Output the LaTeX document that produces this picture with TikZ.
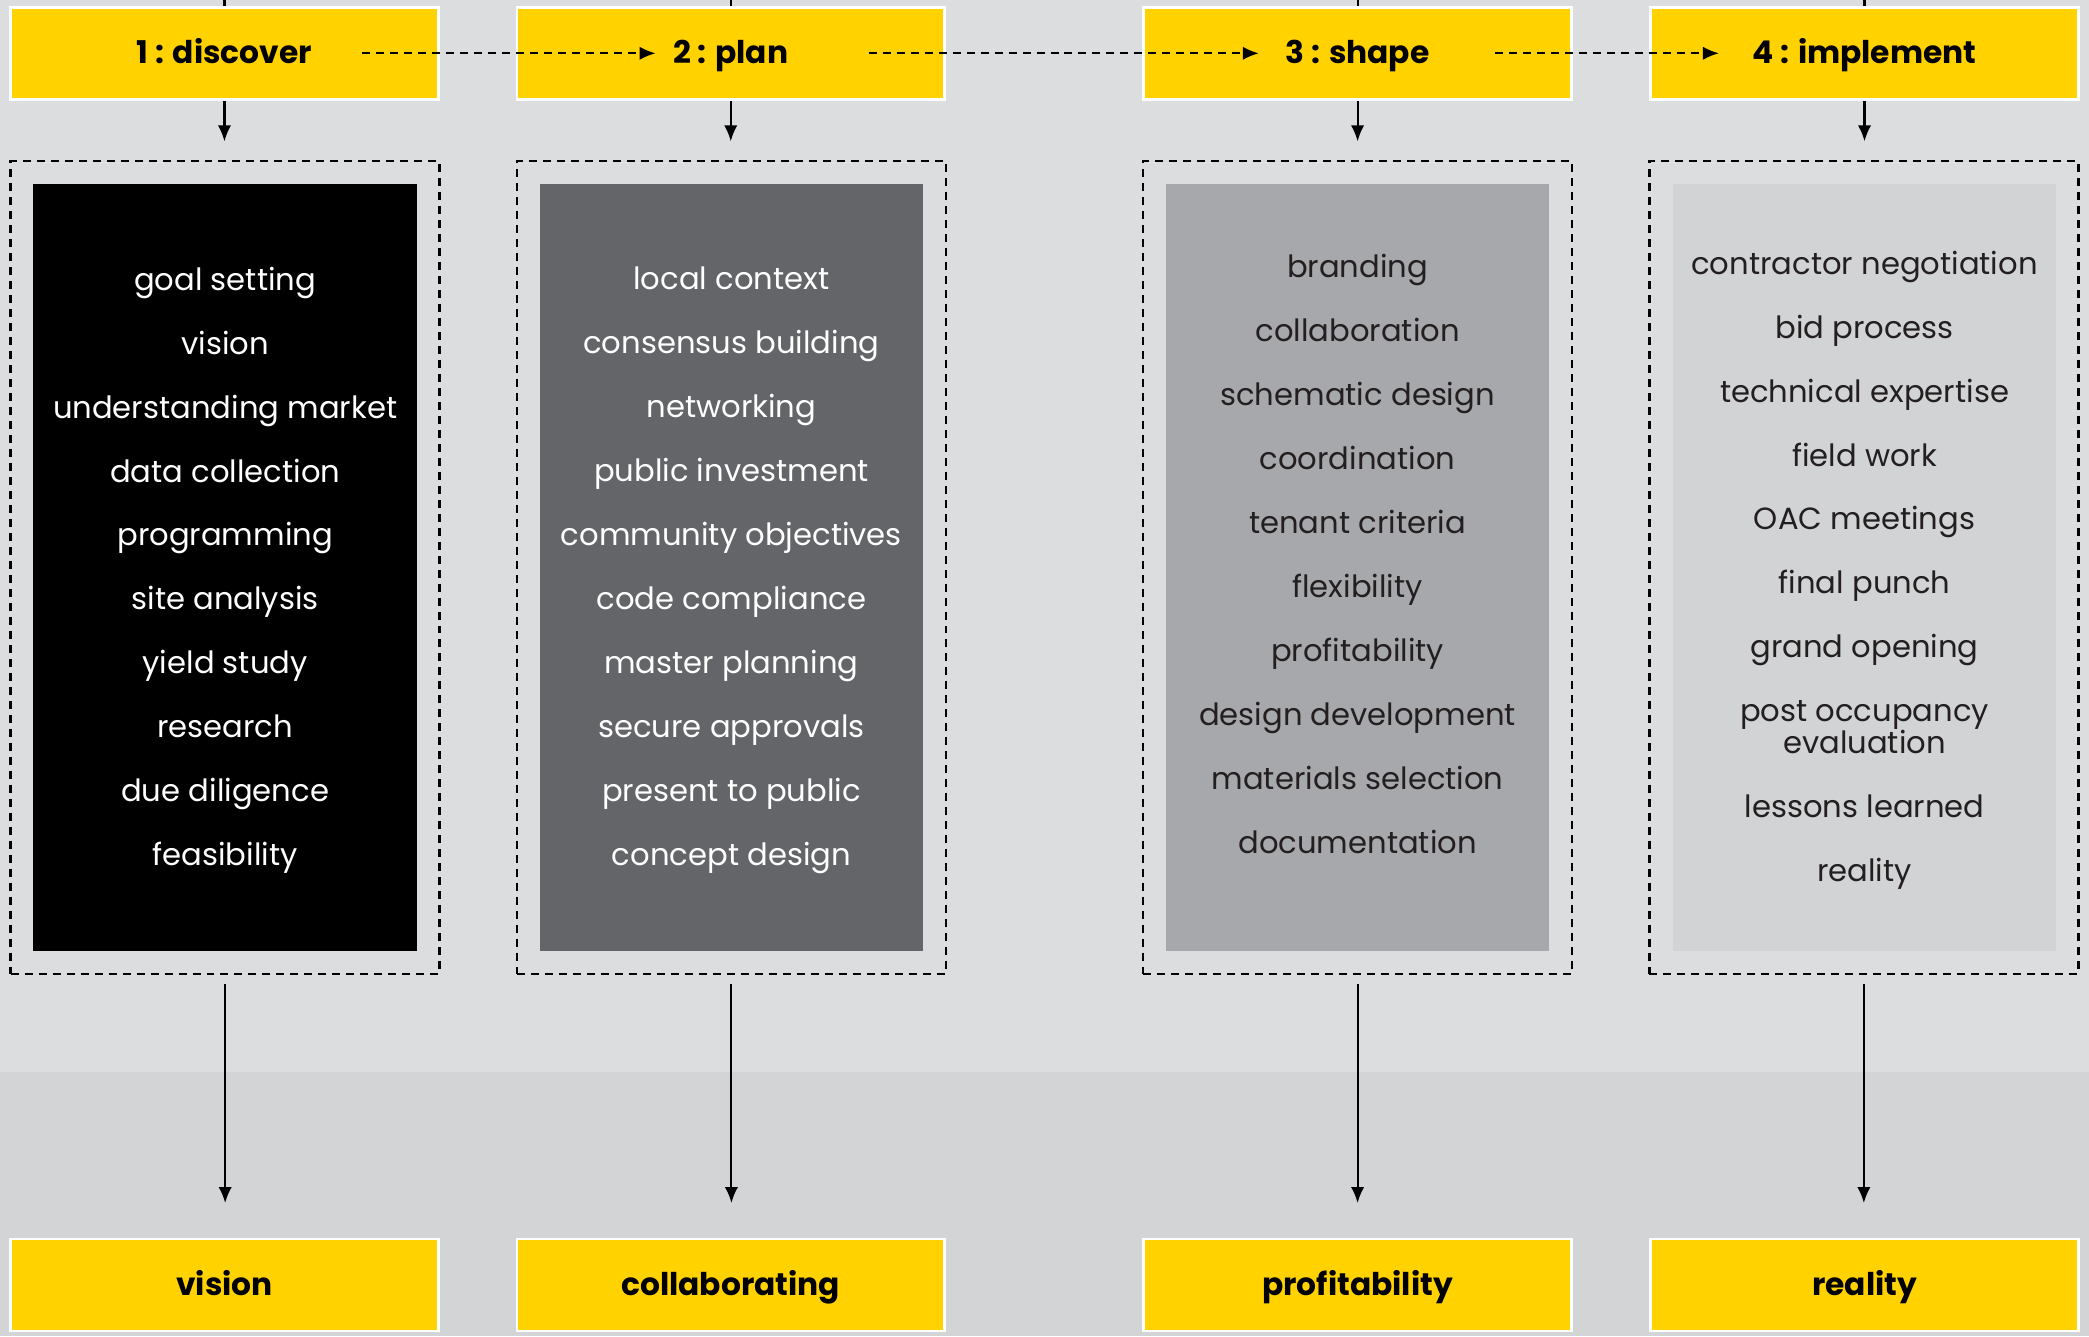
\documentclass[tikz,border=0pt]{standalone}
\usepackage{fontspec}
\setmainfont{Poppins}
\usetikzlibrary{positioning,arrows.meta}
\definecolor{phaseyellow}{HTML}{FFD200}
\definecolor{bgtop}{HTML}{DCDDDF}
\definecolor{bgbottom}{HTML}{D3D4D6}
\definecolor{listdark}{HTML}{646569}
\definecolor{listmid}{HTML}{A7A8AB}
\definecolor{listlight}{HTML}{D2D3D5}
\definecolor{ink}{HTML}{231F20}
\tikzstyle{phasebox} = [draw=white, line width=2pt, fill=phaseyellow,
    rectangle, minimum width=321pt, minimum height=69pt, inner sep=0pt]
\tikzstyle{phasetitle} = [font=\fontsize{23.5}{26}\selectfont\bfseries, text=black,
    inner sep=0pt, text height=16pt, text depth=0pt]
\tikzstyle{groupbox} = [draw=black, line width=1.8pt, dash pattern=on 6pt off 4.5pt,
    rectangle, minimum width=322pt, minimum height=610pt, inner sep=0pt]
\tikzstyle{listbox} = [rectangle, minimum width=288pt, minimum height=576pt, inner sep=0pt]
\tikzstyle{listtext} = [font=\fontsize{23}{24}\selectfont, align=center, inner sep=0pt]
\tikzstyle{flow} = [-{Latex[length=12pt,width=10pt]}, line width=1.6pt, black]
\tikzstyle{handoff} = [-{Latex[length=12pt,width=10pt]}, line width=1.6pt, black,
    dash pattern=on 6pt off 4.5pt]

\begin{document}
\begin{tikzpicture}[x=1pt,y=-1pt]
    \fill[bgtop] (0,0) rectangle (1568,1003);
    \fill[bgbottom] (0,805) rectangle (1568,1003);
    \useasboundingbox (0,0) rectangle (1568,1003);

    \node[phasebox] (phase1) at (168.5,40) {};
    \node[phasebox] (phase2) at (548.5,40) {};
    \node[phasebox] (phase3) at (1019,40) {};
    \node[phasebox] (phase4) at (1399.5,40) {};
    \node[phasetitle] (title1) at (phase1) {1 : discover};
    \node[phasetitle] (title2) at (phase2) {2 : plan};
    \node[phasetitle] (title3) at (phase3) {3 : shape};
    \node[phasetitle] (title4) at (phase4) {4 : implement};

    \node[groupbox] (group1) at (169,426) {};
    \node[groupbox] (group2) at (549,426) {};
    \node[groupbox] (group3) at (1019,426) {};
    \node[groupbox] (group4) at (1399,426) {};

    \node[listbox, fill=black] (list1) at (169,426) {};
    \node[listbox, fill=listdark] (list2) at (549,426) {};
    \node[listbox, fill=listmid] (list3) at (1019,426) {};
    \node[listbox, fill=listlight] (list4) at (1399.5,426) {};

    \node[listtext, text=white] (items1) at ([yshift=-2pt]list1.center) {goal setting\\[24pt] vision\\[24pt]
        understanding market\\[24pt] data collection\\[24pt] programming\\[24pt]
        site analysis\\[24pt] yield study\\[24pt] research\\[24pt]
        due diligence\\[24pt] feasibility};
    \node[listtext, text=white] (items2) at ([yshift=-2pt]list2.center) {local context\\[24pt]
        consensus building\\[24pt] networking\\[24pt] public investment\\[24pt]
        community objectives\\[24pt] code compliance\\[24pt] master planning\\[24pt]
        secure approvals\\[24pt] present to public\\[24pt] concept design};
    \node[listtext, text=ink] (items3) at ([yshift=10pt]list3.center) {branding\\[24pt]
        collaboration\\[24pt] schematic design\\[24pt] coordination\\[24pt]
        tenant criteria\\[24pt] flexibility\\[24pt] profitability\\[24pt]
        design development\\[24pt] materials selection\\[24pt] documentation};
    \node[listtext, text=ink] (items4) at ([yshift=-2pt]list4.center) {contractor negotiation\\[24pt]
        bid process\\[24pt] technical expertise\\[24pt] field work\\[24pt]
        OAC meetings\\[24pt] final punch\\[24pt] grand opening\\[24pt]
        post occupancy\\ evaluation\\[24pt] lessons learned\\[24pt] reality};

    \node[phasebox, phasetitle] (result1) at (168.5,964.5) {vision};
    \node[phasebox, phasetitle] (result2) at (548.5,964.5) {collaborating};
    \node[phasebox, phasetitle] (result3) at (1019,964.5) {profitability};
    \node[phasebox, phasetitle] (result4) at (1399.5,964.5) {reality};

    \coordinate (top1) at (168.5,0);
    \coordinate (top2) at (548.5,0);
    \coordinate (top3) at (1019,0);
    \coordinate (top4) at (1399.5,0);

    \foreach \i in {1,...,4}{
        \draw[line width=1.6pt] (top\i) -- (phase\i.north);
        \draw[flow, shorten >=14pt] (phase\i.south) -- (phase\i.south |- group\i.north);
        \draw[flow, shorten <=7pt, shorten >=26pt] (group\i.south) -- (group\i.south |- result\i.north);
    }

    \draw[handoff] ([xshift=103.5pt]phase1.center) -- ([xshift=-13pt]title2.west);
    \draw[handoff] ([xshift=103.5pt]phase2.center) -- ([xshift=-20pt]title3.west);
    \draw[handoff] ([xshift=103pt]phase3.center) -- ([xshift=-25pt]title4.west);
\end{tikzpicture}
\end{document}
